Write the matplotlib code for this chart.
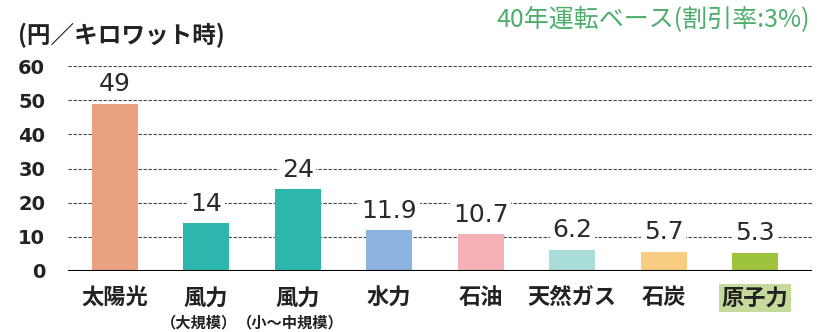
import matplotlib.pyplot as plt
from matplotlib.transforms import blended_transform_factory

plt.rcParams['font.family'] = ['Noto Sans CJK JP', 'DejaVu Sans']

# データ
categories = ['太陽光', '風力', '風力', '水力', '石油', '天然ガス', '石炭', '原子力']
sub_labels = ['', '（大規模）', '（小～中規模）', '', '', '', '', '']
costs = [49, 14, 24, 11.9, 10.7, 6.2, 5.7, 5.3]
value_labels = ['49', '14', '24', '11.9', '10.7', '6.2', '5.7', '5.3']
colors = ['#E9A180', '#2DB6AE', '#2DB6AE', '#8CB2E2', '#F5B1B6', '#A9DDD7', '#F8CD82', '#9DC43C']
yticks = [0, 10, 20, 30, 40, 50, 60]

W, H = 832, 332
fig = plt.figure(figsize=(W / 100, H / 100), dpi=100)
ax = fig.add_axes([68 / W, (H - 271) / H, (812 - 68) / W, (271 - 66) / H])

x = list(range(len(categories)))
ax.bar(x, costs, width=0.5, color=colors, zorder=2)
ax.set_xlim(-0.51, 7.62)
ax.set_ylim(0, 60)

# 破線グリッド
for t in yticks[1:]:
    ax.axhline(t, color='#444444', lw=0.8, ls=(0, (3, 1.5)), zorder=1)
ax.axhline(0, color='black', lw=1.5, zorder=3)

for s in ax.spines.values():
    s.set_visible(False)
ax.set_xticks([])
ax.set_yticks(yticks)
ax.set_yticklabels([str(t) for t in yticks], fontsize=14, fontweight='bold',
                   family='DejaVu Sans', color='#222222')
ax.tick_params(axis='y', length=0, pad=16.5)

# 数値ラベル
for xi, v, lab in zip(x, costs, value_labels):
    ax.annotate(lab, (xi, v), xytext=(0, 14), textcoords='offset points',
                ha='center', va='center', fontsize=18, color='#2a2a2a',
                family='DejaVu Sans',
                bbox=dict(boxstyle='square,pad=0.1', fc='white', ec='none'),
                zorder=4, annotation_clip=False)

# カテゴリラベル
tr = blended_transform_factory(ax.transData, fig.transFigure)
for xi, cat, sub in zip(x, categories, sub_labels):
    if cat == '原子力':
        ax.text(xi, 1 - 298 / H, cat, transform=tr, ha='center', va='center',
                fontsize=16, fontweight='bold', color='#222222',
                bbox=dict(boxstyle='square,pad=0.12', fc='#C6DA9C', ec='none'))
    else:
        ax.text(xi, 1 - 298 / H, cat, transform=tr, ha='center', va='center',
                fontsize=16, fontweight='bold', color='#222222')
    if sub:
        ax.text(xi - 0.08, 1 - 322 / H, sub, transform=tr, ha='center', va='center',
                fontsize=11, fontweight='bold', color='#222222')

fig.text(18 / W, 1 - 35 / H, '(円／キロワット時)', ha='left', va='center',
         fontsize=17, fontweight='bold', color='#222222')
fig.text(810 / W, 1 - 20 / H, '40年運転ベース(割引率:3%)', ha='right', va='center',
         fontsize=18, color='#4DAE6C')

fig.savefig('out.png', dpi=100)
